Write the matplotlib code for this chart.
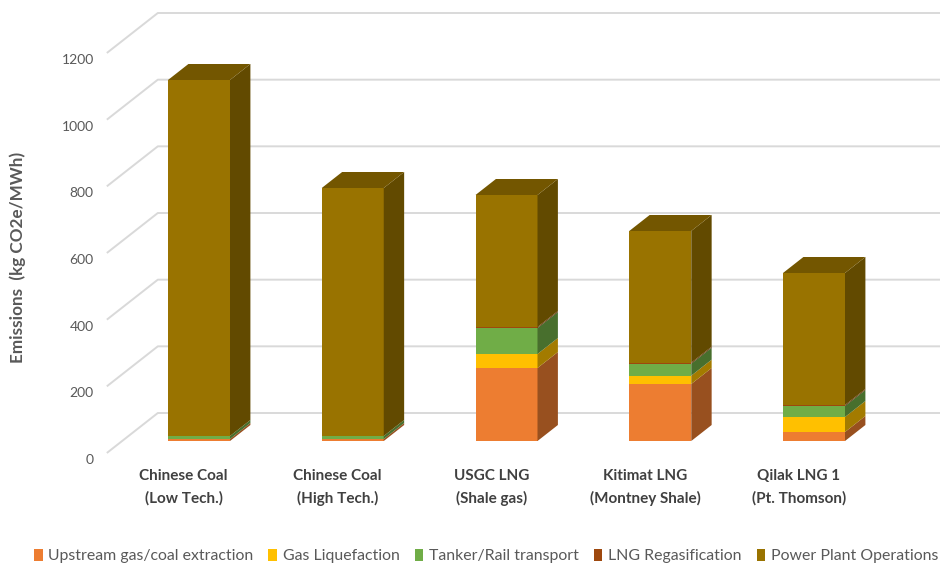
import matplotlib
matplotlib.use("Agg")
import matplotlib.pyplot as plt
from matplotlib.patches import Polygon, Patch
import matplotlib.colors as mcolors
import numpy as np

# ---------------- data ----------------
cat_line1 = ["Chinese Coal", "Chinese Coal", "USGC LNG", "Kitimat LNG", "Qilak LNG 1"]
cat_line2 = ["(Low Tech.)", "(High Tech.)", "(Shale gas)", "(Montney Shale)", "(Pt. Thomson)"]
series_names = ["Upstream gas/coal extraction", "Gas Liquefaction", "Tanker/Rail transport",
                "LNG Regasification", "Power Plant Operations"]
upstream = [6, 6, 219, 171, 27]
liquefaction = [0, 0, 42, 25, 45]
transport = [9, 9, 78, 36, 33]
regas = [0, 0, 3, 3, 3]
power = [1068, 744, 396, 395, 396]
yticks = [0, 200, 400, 600, 800, 1000, 1200]
colors = ["#ED7D31", "#FFC000", "#70AD47", "#9E480E", "#997300"]

series = [upstream, liquefaction, transport, regas, power]

# ---------------- layout (oblique 3D projection) ----------------
W, H = 940, 565
PX_CAT = 153.75          # pixels per category
PX_VAL = 1.0 / 3.0       # pixels per value unit
X0_PX = 199              # centre of first bar front face (px from left)
Y0_PX = 441              # zero of bar front plane (px from top)
DX = 51 / PX_CAT         # full-depth x shift in data units
DV = 40 / PX_VAL         # full-depth y shift in data units
D_FRONT, D_BACK = 0.3, 0.7
BAR_W = 62 / PX_CAT

def P(x, v, d):
    return (x + (d - D_FRONT) * DX, v + (d - D_FRONT) * DV)

def shade(c, f):
    r, g, b = mcolors.to_rgb(c)
    return (r * f, g * f, b * f)

plt.rcParams["font.family"] = ["Lato", "DejaVu Sans"]
fig = plt.figure(figsize=(W / 100, H / 100), dpi=100)
ax = fig.add_axes([0, 0, 1, 1])
xmin = -X0_PX / PX_CAT
xmax = (W - X0_PX) / PX_CAT
ymin = -(H - Y0_PX) / PX_VAL
ymax = Y0_PX / PX_VAL
ax.set_xlim(xmin, xmax)
ax.set_ylim(ymin, ymax)
ax.axis("off")

# gridlines: floor diagonal + back wall
wall_left = -0.5
for v in yticks:
    a = P(wall_left, v, 0)
    b = P(wall_left, v, 1)
    ax.plot([a[0], b[0], xmax + 1], [a[1], b[1], b[1]], color="#D9D9D9", lw=1.4,
            zorder=1, solid_capstyle="butt")
    ax.annotate(str(v), xy=a, xytext=(-13, -7), textcoords="offset pixels",
                ha="right", va="center", fontsize=10, color="#595959")

# bars
x = np.arange(len(cat_line1))
bottoms = np.zeros(len(x))
for s_idx, (vals, col) in enumerate(zip(series, colors)):
    vals = np.array(vals, dtype=float)
    ax.bar(x, vals, width=BAR_W, bottom=bottoms, color=col, zorder=3, linewidth=0)
    for i in range(len(x)):
        if vals[i] <= 0:
            continue
        b, t = bottoms[i], bottoms[i] + vals[i]
        xr = x[i] + BAR_W / 2
        side = [P(xr, b, D_FRONT), P(xr, t, D_FRONT), P(xr, t, D_BACK), P(xr, b, D_BACK)]
        ax.add_patch(Polygon(side, closed=True, facecolor=shade(col, 0.64),
                             edgecolor="none", zorder=3))
    bottoms = bottoms + vals

# top faces
top_col = [None] * len(x)
for i in range(len(x)):
    for vals, col in zip(series, colors):
        if vals[i] > 0:
            top_col[i] = col
for i in range(len(x)):
    t = bottoms[i]
    xl, xr = x[i] - BAR_W / 2, x[i] + BAR_W / 2
    top = [P(xl, t, D_FRONT), P(xr, t, D_FRONT), P(xr, t, D_BACK), P(xl, t, D_BACK)]
    ax.add_patch(Polygon(top, closed=True, facecolor=shade(top_col[i], 0.75),
                         edgecolor="none", zorder=3))

# category labels
for i in range(len(x)):
    p = P(x[i], 0, 0)
    ax.annotate(cat_line1[i], xy=p, xytext=(0, -23), textcoords="offset pixels",
                ha="center", va="center", fontsize=11, fontweight="bold", color="#404040")
    ax.annotate(cat_line2[i], xy=p, xytext=(0, -45), textcoords="offset pixels",
                ha="center", va="center", fontsize=11, fontweight="bold", color="#404040")

# y label
fig.text(18 / W, 1 - 257 / H, "Emissions  (kg CO2e/MWh)", rotation=90,
         ha="center", va="center", fontsize=12.3, fontweight="bold", color="#595959")

# legend
handles = [Patch(facecolor=c, edgecolor="none") for c in colors]
fig.legend(handles, series_names, ncol=5, loc="center",
           bbox_to_anchor=(486 / W, 1 - 556 / H), frameon=False,
           handlelength=0.55, handleheight=0.8, handletextpad=0.35,
           columnspacing=0.95, fontsize=11.4, labelcolor="#595959",
           borderpad=0.1, borderaxespad=0)

fig.savefig("out.png", dpi=100)
